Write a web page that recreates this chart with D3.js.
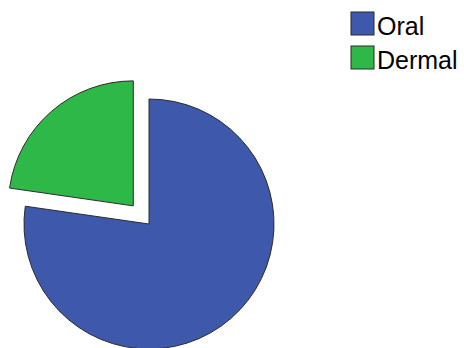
<!DOCTYPE html>
<html>
<head>
<meta charset="utf-8">
<script src="https://cdn.jsdelivr.net/npm/d3@7"></script>
<style>
  html, body { margin: 0; padding: 0; background: #fff; }
  svg { display: block; }
</style>
</head>
<body>
<svg id="chart" width="464" height="348"></svg>
<script>
// Exposure route counts
const categories = ["Oral", "Dermal"];
const values = [17, 5];
const colors = ["#3E58AC", "#2EB848"];
const exploded = [false, true];

const svg = d3.select("#chart");
const cx = 149, cy = 224, radius = 125, explodeDist = 24;

const pie = d3.pie().sort(null).startAngle(0).endAngle(2 * Math.PI);
const arcs = pie(values);
const arc = d3.arc().innerRadius(0).outerRadius(radius);

const g = svg.append("g").attr("transform", `translate(${cx},${cy})`);
g.selectAll("path")
  .data(arcs)
  .join("path")
  .attr("d", arc)
  .attr("fill", (d, i) => colors[i])
  .attr("stroke", "#2b2b2b")
  .attr("stroke-width", 1)
  .attr("transform", (d, i) => {
    if (!exploded[i]) return null;
    const mid = (d.startAngle + d.endAngle) / 2;
    return `translate(${Math.sin(mid) * explodeDist},${-Math.cos(mid) * explodeDist})`;
  });

// Legend
const legend = svg.append("g").attr("transform", "translate(351,12)");
const item = legend.selectAll("g")
  .data(categories)
  .join("g")
  .attr("transform", (d, i) => `translate(0,${i * 34})`);
item.append("rect")
  .attr("width", 23).attr("height", 23)
  .attr("fill", (d, i) => colors[i])
  .attr("stroke", "#2b2b2b").attr("stroke-width", 1);
item.append("text")
  .attr("x", 26).attr("y", 23)
  .attr("font-family", "Liberation Sans, Arial, sans-serif")
  .attr("font-size", 25)
  .attr("fill", "#000")
  .text(d => d);
</script>
</body>
</html>
